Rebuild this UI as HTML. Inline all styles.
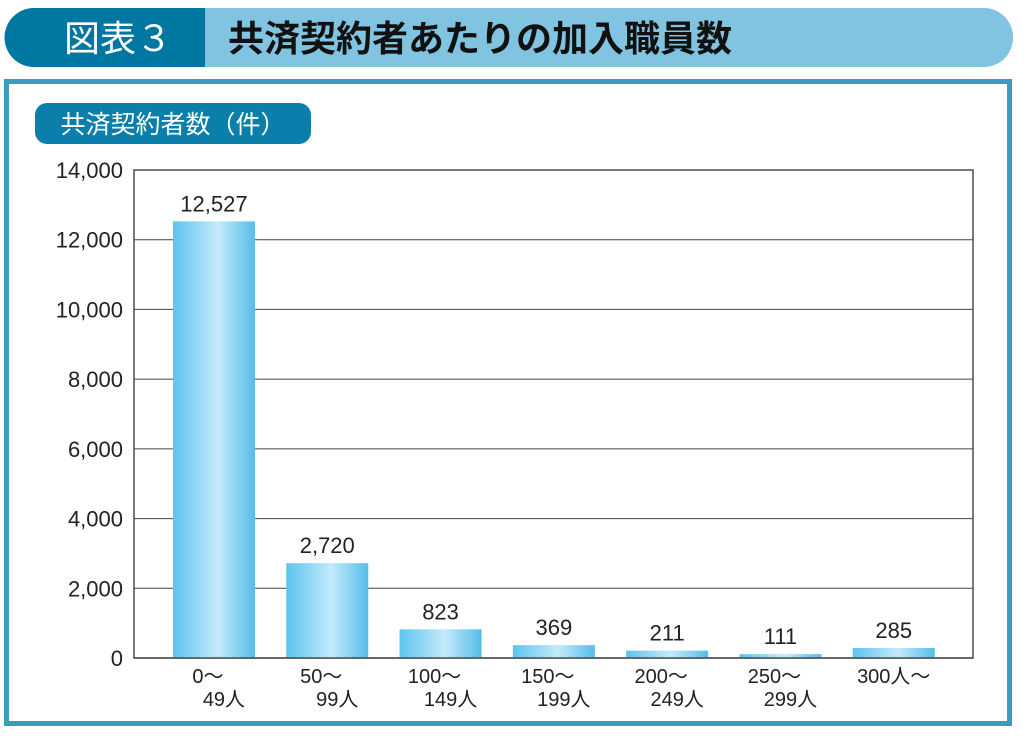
<!DOCTYPE html>
<html><head><meta charset="utf-8">
<style>
body{margin:0;width:1024px;height:734px;background:#fff;overflow:hidden;font-family:"Liberation Sans","Noto Sans CJK JP",sans-serif;}
</style></head><body>
<svg width="1024" height="734" viewBox="0 0 1024 734">
<defs>
<linearGradient id="bg" x1="0" x2="1" y1="0" y2="0">
<stop offset="0" stop-color="#5cc4ee"/><stop offset="0.55" stop-color="#c4eafc"/><stop offset="1" stop-color="#55bde8"/>
</linearGradient>
</defs>
<g>
<rect x="5" y="8" width="1008" height="59" rx="29" fill="#80c4e2"/>
<path d="M34,8 H205 V67 H34 A29.5,29.5 0 0 1 34,8 Z" fill="#0077a0"/>
<text x="118" y="51" font-size="36" fill="#fff" text-anchor="middle">図表３</text>
<text x="228" y="51" font-size="36" fill="#111" font-weight="bold">共済契約者あたりの加入職員数</text>
</g>
<rect x="6.5" y="81.5" width="1003" height="642" fill="none" stroke="#3a9dbf" stroke-width="5"/>
<g>
<rect x="35" y="103" width="276" height="41" rx="12" fill="#0a7fab"/>
<text x="173" y="133" font-size="25" fill="#fff" text-anchor="middle">共済契約者数（件）</text>
</g>
<g id="plot"></g>
</svg>
<script>
const categories=["0〜|49人","50〜|99人","100〜|149人","150〜|199人","200〜|249人","250〜|299人","300人〜"];
const values=[12527,2720,823,369,211,111,285];
const valueLabels=["12,527","2,720","823","369","211","111","285"];
const yTicks=[0,2000,4000,6000,8000,10000,12000,14000];
const yTickLabels=["0","2,000","4,000","6,000","8,000","10,000","12,000","14,000"];
const NS="http://www.w3.org/2000/svg";
const g=document.getElementById('plot');
const L=134,R=973,T=170,B=658,yMax=14000;
const y=v=>B-(v/yMax)*(B-T);
const bandStart=157.3,bandW=113.3,barW=82;
const xc=i=>bandStart+bandW*(i+0.5);
function mk(t,a,txt){const e=document.createElementNS(NS,t);for(const k in a)e.setAttribute(k,a[k]);if(txt!==undefined)e.textContent=txt;g.appendChild(e);return e;}
let e=mk('rect',{x:L,y:T,width:R-L,height:B-T,fill:'#fff',stroke:'#333','stroke-width':1.3});


yTicks.forEach((t,i)=>{
 if(t>0&&t<yMax){const l=mk('line',{x1:L,x2:R,y1:y(t),y2:y(t),stroke:'#444','stroke-width':1});
 
 }
 const tx=mk('text',{x:123,y:y(t)+8,'font-size':22,fill:'#222','text-anchor':'end'},yTickLabels[i]);
 
 
});
values.forEach((v,i)=>{
 const r=mk('rect',{x:xc(i)-barW/2,y:y(v),width:barW,height:B-y(v),fill:'url(#bg)'});
 
 
 const t=mk('text',{x:xc(i),y:y(v)-10,'font-size':22,fill:'#222','text-anchor':'middle'},valueLabels[i]);
 
 
 const parts=categories[i].split('|');
 parts.forEach((p,j)=>{
  const c=mk('text',{x:xc(i)+(j?10:-6)*(parts.length>1?1:0),y:683+j*23,'font-size':20,fill:'#222','text-anchor':'middle'},p);
  
  
 });
});
mk('line',{x1:L,x2:R,y1:B,y2:B,stroke:'#333','stroke-width':1.3});
</script>
</body></html>
